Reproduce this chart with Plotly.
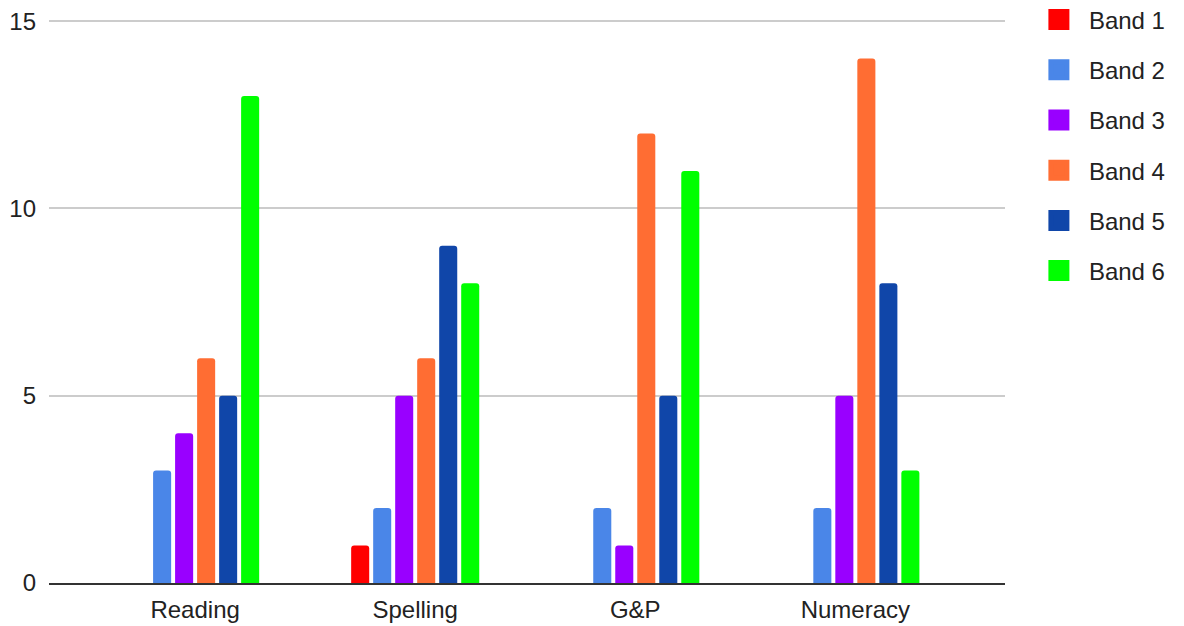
import plotly.graph_objects as go

categories = ["Reading", "Spelling", "G&P", "Numeracy"]
series_names = ["Band 1", "Band 2", "Band 3", "Band 4", "Band 5", "Band 6"]
band1 = [0, 1, 0, 0]
band2 = [3, 2, 2, 2]
band3 = [4, 5, 1, 5]
band4 = [6, 6, 12, 14]
band5 = [5, 9, 5, 8]
band6 = [13, 8, 11, 3]
series_values = [band1, band2, band3, band4, band5, band6]
y_ticks = [0, 5, 10, 15]

colors = ["#ff0000", "#4a86e8", "#9900ff", "#ff6d33", "#1046a9", "#00ff00"]
FONT = "Liberation Sans, Arial, sans-serif"
FS = 24

fig = go.Figure()
for name, vals, col in zip(series_names, series_values, colors):
    fig.add_trace(go.Bar(
        x=categories, y=vals, name=name,
        marker=dict(color=col, cornerradius=3, line=dict(width=0)),
        showlegend=False,
    ))
# legend entries
for name, col in zip(series_names, colors):
    fig.add_trace(go.Scatter(
        x=[None], y=[None], name=name, mode="markers",
        marker=dict(symbol="square", size=16, color=col,
                    line=dict(width=5, color=col)),
        legendgroup=name, showlegend=True,
    ))

fig.update_layout(
    width=1184, height=626,
    margin=dict(l=49, r=179, t=20, b=43, autoexpand=False),
    paper_bgcolor="white", plot_bgcolor="white",
    barmode="group", bargap=0.4, bargroupgap=0.18,
    font=dict(family=FONT, size=FS, color="#222222"),
    legend=dict(
        x=1.025, y=1.04, xanchor="left", yanchor="top",
        font=dict(family=FONT, size=FS, color="#222222"),
        traceorder="grouped", tracegroupgap=16,
        itemwidth=50,
    ),
    xaxis=dict(
        type="category", range=[-0.664, 3.68],
        showgrid=False, showline=True, linecolor="#333333", linewidth=2,
        ticks="", ticklabelstandoff=4, tickfont=dict(size=FS, color="#222222"),
        automargin=False, fixedrange=True,
    ),
    yaxis=dict(
        range=[0, 15.03], tickvals=y_ticks, showgrid=True,
        gridcolor="#cccccc", gridwidth=1.5, zeroline=False,
        ticks="", ticklabelstandoff=12, automargin=False,
        tickfont=dict(size=FS, color="#222222"),
    ),
)

fig.write_html("out.html", config={"displayModeBar": False},
               post_script="document.body.style.margin='0';")
